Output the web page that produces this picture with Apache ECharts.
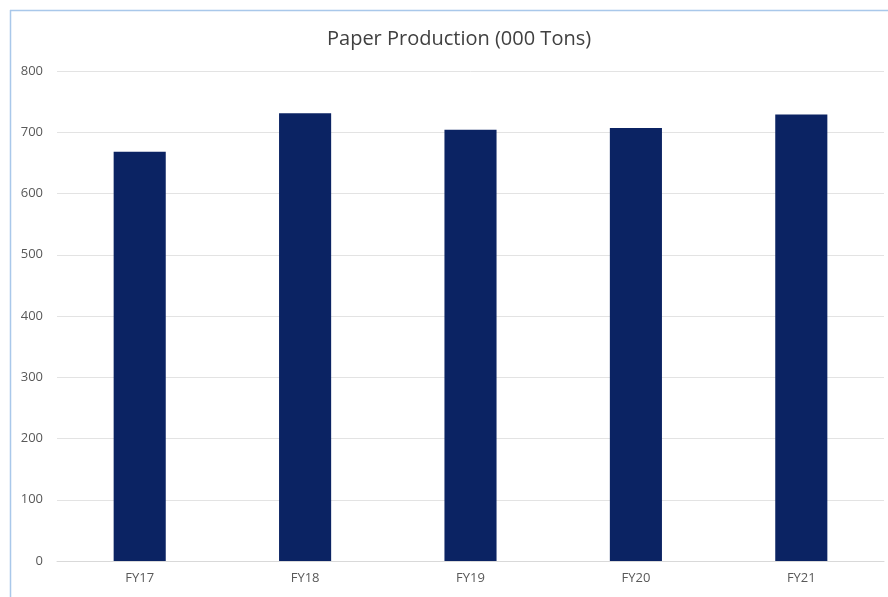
<!DOCTYPE html>
<html>
<head>
<meta charset="utf-8">
<script src="https://cdn.jsdelivr.net/npm/echarts@6/dist/echarts.min.js"></script>
<style>
  html, body { margin: 0; padding: 0; background: #fff; }
  #chart { width: 888px; height: 597px; }
</style>
</head>
<body>
<div id="chart"></div>
<script>
// ========== 数据 ==========
const categories = ['FY17', 'FY18', 'FY19', 'FY20', 'FY21'];
const production = [668, 731, 704, 707, 729];
const yTicks = [0, 100, 200, 300, 400, 500, 600, 700, 800];

const chart = echarts.init(document.getElementById('chart'));

const option = {
    animation: false,
    backgroundColor: '#fff',
    title: {
        text: 'Paper Production (000 Tons)',
        left: 322,
        top: 24,
        textStyle: { color: '#404040', fontSize: 20, fontWeight: 'normal', fontFamily: 'Open Sans' }
    },
    graphic: [
        { type: 'line', shape: { x1: 10, y1: 10.5, x2: 888, y2: 10.5 }, style: { stroke: '#a9c8ea', lineWidth: 1.5 } },
        { type: 'line', shape: { x1: 10.5, y1: 10, x2: 10.5, y2: 597 }, style: { stroke: '#a9c8ea', lineWidth: 1.5 } }
    ],
    grid: { left: 57, right: 4, top: 71, bottom: 36, containLabel: false },
    xAxis: {
        type: 'category',
        data: categories,
        axisLine: { lineStyle: { color: '#d9d9d9' } },
        axisTick: { show: false },
        axisLabel: { color: '#595959', fontSize: 13, fontFamily: 'Open Sans', margin: 11 }
    },
    yAxis: {
        type: 'value',
        min: yTicks[0],
        max: yTicks[yTicks.length - 1],
        interval: 100,
        axisLine: { show: false },
        axisTick: { show: false },
        splitLine: { lineStyle: { color: '#e3e3e3' } },
        axisLabel: { color: '#595959', fontSize: 13, fontFamily: 'Open Sans', margin: 14 }
    },
    series: [{
        type: 'bar',
        data: production,
        barWidth: '31.5%',
        itemStyle: { color: '#0b2363' }
    }]
};

chart.setOption(option);
</script>
</body>
</html>
